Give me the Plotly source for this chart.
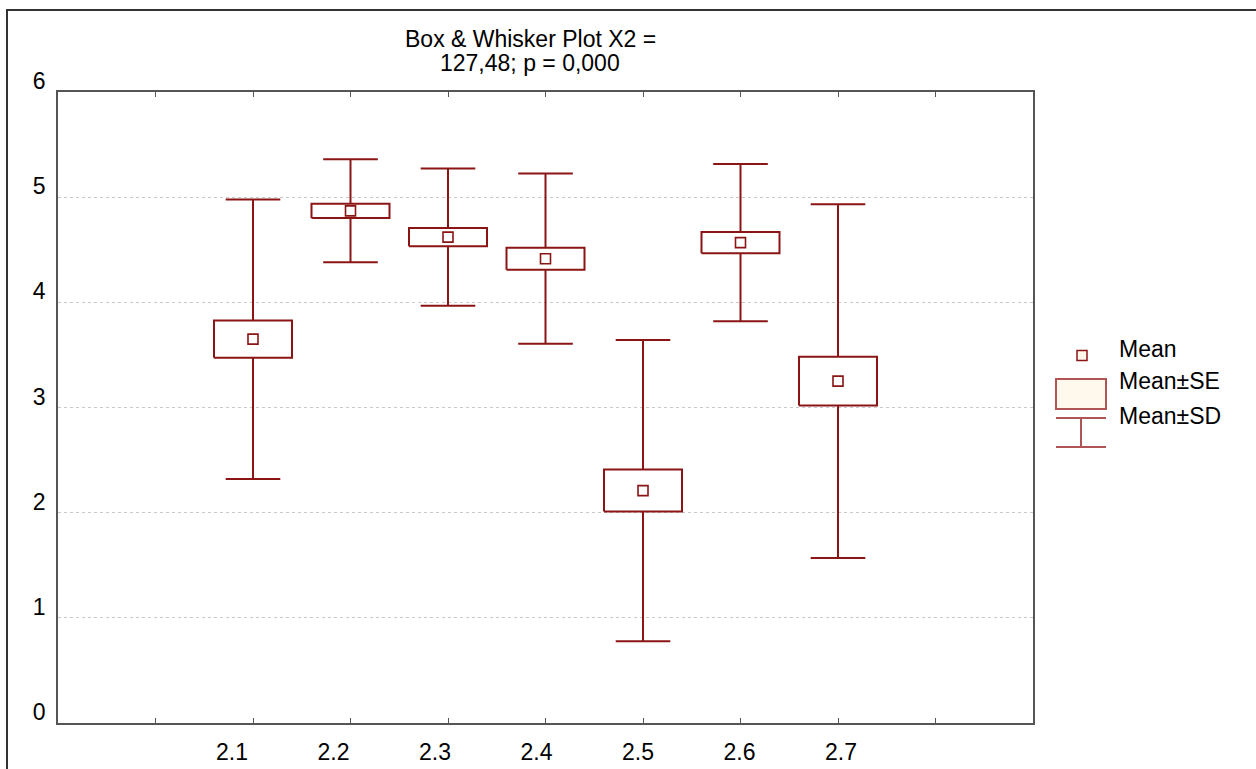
import plotly.graph_objects as go

# ---- data ----
categories = ["2.1", "2.2", "2.3", "2.4", "2.5", "2.6", "2.7"]
means = [3.65, 4.87, 4.62, 4.415, 2.21, 4.568, 3.251]
se = [0.177, 0.067, 0.086, 0.105, 0.200, 0.101, 0.232]
sd = [1.329, 0.490, 0.652, 0.810, 1.433, 0.748, 1.681]
y_ticks = [0, 1, 2, 3, 4, 5, 6]
title_lines = ["Box & Whisker Plot X2 =", "127,48; p = 0,000"]
legend_labels = ["Mean", "Mean±SE", "Mean±SD"]

positions = list(range(1, len(categories) + 1))

RED = "#8B1515"
LRED = "#B05555"
FONT = "Liberation Sans, Arial, sans-serif"
FS = 23

# plot area in pixels
L, R, T, B = 58, 1033, 92, 723
W, H = 1256, 769


def px(xp):
    return (xp - L) / (R - L)


def py(yp):
    return (B - yp) / (B - T)


box_w = 0.4
cap_w = 0.28

bx, by = [], []
wx, wy = [], []
for p, m, s, d in zip(positions, means, se, sd):
    lo, hi = m - s, m + s
    bx += [p - box_w, p + box_w, p + box_w, p - box_w, p - box_w, None]
    by += [lo, lo, hi, hi, lo, None]
    wx += [p, p, None, p - cap_w, p + cap_w, None]
    wy += [hi, m + d, None, m + d, m + d, None]
    wx += [p, p, None, p - cap_w, p + cap_w, None]
    wy += [lo, m - d, None, m - d, m - d, None]

fig = go.Figure()
fig.add_trace(go.Scatter(x=wx, y=wy, mode="lines", line=dict(color=RED, width=2),
                         showlegend=False, hoverinfo="skip"))
fig.add_trace(go.Scatter(x=bx, y=by, mode="lines", line=dict(color=RED, width=2),
                         fill="toself", fillcolor="white",
                         showlegend=False, hoverinfo="skip"))
fig.add_trace(go.Scatter(x=positions, y=means, mode="markers",
                         marker=dict(symbol="square", size=10, color="white",
                                     line=dict(color=RED, width=1.6)),
                         showlegend=False, name="Mean"))
# invisible trace carrying the category-label axis
fig.add_trace(go.Scatter(x=positions, y=means, xaxis="x2", mode="markers",
                         marker=dict(opacity=0), showlegend=False, hoverinfo="skip"))

shapes = []
shapes.append(dict(type="rect", xref="paper", yref="paper",
                   x0=px(7), x1=px(1300), y0=py(800), y1=py(10),
                   line=dict(color="#333333", width=2), fillcolor="rgba(0,0,0,0)"))
CREAM = "#FFF8EC"
shapes.append(dict(type="rect", xref="paper", yref="paper",
                   x0=px(1077), x1=px(1087), y0=py(360.5), y1=py(350.5),
                   line=dict(color=RED, width=1.5), fillcolor=CREAM))
shapes.append(dict(type="rect", xref="paper", yref="paper",
                   x0=px(1056), x1=px(1106), y0=py(409), y1=py(379),
                   line=dict(color=LRED, width=2), fillcolor=CREAM))
for yy in (418, 447):
    shapes.append(dict(type="line", xref="paper", yref="paper",
                       x0=px(1056), x1=px(1106), y0=py(yy), y1=py(yy),
                       line=dict(color=LRED, width=2)))
shapes.append(dict(type="line", xref="paper", yref="paper",
                   x0=px(1081), x1=px(1081), y0=py(418), y1=py(447),
                   line=dict(color=LRED, width=2)))

annotations = []
for txt, ypix in zip(title_lines, [39, 63]):
    annotations.append(dict(text=txt, xref="paper", yref="paper", x=px(530), y=py(ypix),
                            xanchor="center", yanchor="middle", showarrow=False,
                            font=dict(family=FONT, size=FS, color="black")))
for txt, ypix in zip(legend_labels, [349.5, 381.5, 415.5]):
    annotations.append(dict(text=txt, xref="paper", yref="paper", x=px(1117), y=py(ypix),
                            xanchor="left", yanchor="middle", showarrow=False,
                            font=dict(family=FONT, size=FS, color="black")))

fig.update_layout(
    width=W, height=H,
    margin=dict(l=L, r=W - R, t=T, b=H - B, autoexpand=False),
    paper_bgcolor="white", plot_bgcolor="white",
    font=dict(family=FONT, size=FS, color="black"),
    showlegend=False,
    shapes=shapes, annotations=annotations,
    xaxis=dict(range=[-1, 9], tickvals=list(range(0, 9)), showticklabels=False,
               ticks="inside", ticklen=5, tickcolor="#555555", tickwidth=1.2,
               showline=True, linecolor="#555555", linewidth=1.5, mirror="ticks",
               showgrid=False, zeroline=False, automargin=False),
    xaxis2=dict(overlaying="x", anchor="y", side="bottom",
                range=[-0.714, 8.892], tickvals=positions, ticktext=categories,
                ticks="", showline=False, showgrid=False, zeroline=False,
                ticklabelstandoff=13, automargin=False,
                tickfont=dict(family=FONT, size=FS, color="black")),
    yaxis=dict(range=[0, 6], tickvals=y_ticks, ticks="", showline=True,
               linecolor="#555555", linewidth=1.5, mirror=True,
               showgrid=True, gridcolor="#C8C8C8", gridwidth=1, griddash="3px,3px",
               zeroline=False, ticklabelshift=-11, ticklabelstandoff=6, automargin=False,
               tickfont=dict(family=FONT, size=FS, color="black")),
)

fig.write_html("out.html", config={"displayModeBar": False},
               post_script="document.body.style.margin='0';")
